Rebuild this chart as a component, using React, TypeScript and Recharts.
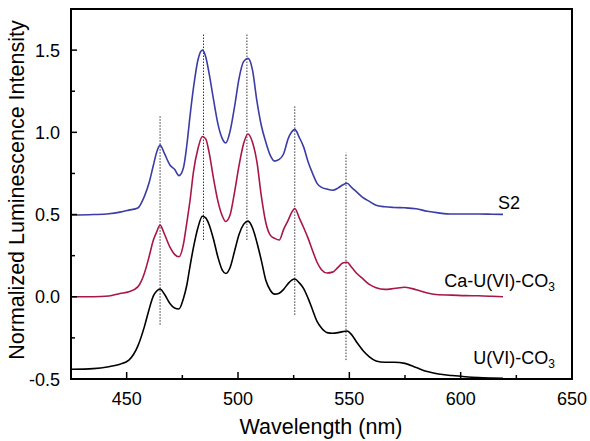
import React from "react";
import { LineChart, Line, XAxis, YAxis, ReferenceLine, ReferenceArea } from "recharts";

// wavelength grid (nm)
const wavelength = [
  425, 435, 442, 447, 451, 455, 458, 460, 462, 463.5, 465, 467, 469.5, 471.5, 473.5, 475.5, 477, 478.5,
  480, 482, 484, 485.5, 487, 489, 491, 493, 494.5, 496.5, 498.5, 500.5, 502.5, 504.5, 506.5, 508.5,
  510.5, 512.5, 514.5, 516.5, 518.5, 520.5, 522.5, 524, 525.5, 527.5, 529.5, 531.5, 533.5, 535.5,
  537.5, 540, 542.5, 545, 547, 549, 551, 553.5, 556, 559, 562, 566, 570, 575, 580, 585, 590, 596,
  602, 608, 614, 619,
];

const s2 = [
  0.497, 0.5, 0.505, 0.515, 0.527, 0.54, 0.612, 0.69, 0.8, 0.88, 0.922, 0.87, 0.8, 0.775, 0.737, 0.785,
  0.92, 1.105, 1.27, 1.44, 1.5, 1.46, 1.36, 1.2, 1.05, 0.96, 0.935, 1.01, 1.16, 1.33, 1.43, 1.45, 1.38,
  1.19, 1.04, 0.94, 0.86, 0.825, 0.835, 0.87, 0.96, 1.0, 1.018, 0.97, 0.91, 0.82, 0.75, 0.69, 0.665,
  0.655, 0.648, 0.662, 0.68, 0.69, 0.665, 0.635, 0.605, 0.58, 0.557, 0.547, 0.543, 0.541, 0.535, 0.52,
  0.51, 0.503, 0.503, 0.503, 0.502, 0.501,
];

const caUCO3 = [
  0.0, 0.0, 0.005, 0.02, 0.03, 0.06, 0.145, 0.24, 0.345, 0.395, 0.436, 0.38, 0.3, 0.258, 0.243, 0.32,
  0.45, 0.59, 0.76, 0.9, 0.975, 0.96, 0.88, 0.72, 0.58, 0.49, 0.458, 0.5, 0.64, 0.8, 0.93, 0.99, 0.94,
  0.82, 0.61, 0.45, 0.375, 0.355, 0.345, 0.41, 0.465, 0.51, 0.537, 0.48, 0.42, 0.355, 0.28, 0.21, 0.165,
  0.145, 0.15, 0.18, 0.205, 0.21, 0.18, 0.14, 0.11, 0.075, 0.055, 0.045, 0.05, 0.058, 0.043, 0.023,
  0.012, 0.01, 0.007, 0.006, 0.003, 0.0,
];

const uCO3 = [
  -0.441, -0.437, -0.425, -0.41, -0.385, -0.3, -0.18, -0.08, 0.005, 0.035, 0.047, 0.015, -0.042, -0.068,
  -0.074, -0.01, 0.07, 0.19, 0.3, 0.42, 0.49, 0.48, 0.44, 0.35, 0.24, 0.16, 0.142, 0.18, 0.28, 0.38,
  0.44, 0.46, 0.42, 0.33, 0.22, 0.1, 0.04, 0.016, 0.022, 0.045, 0.08, 0.1, 0.108, 0.085, 0.05, -0.01,
  -0.08, -0.15, -0.19, -0.218, -0.222, -0.218, -0.212, -0.208, -0.23, -0.28, -0.325, -0.365, -0.39,
  -0.398, -0.398, -0.405, -0.43, -0.455, -0.47, -0.479, -0.486, -0.491, -0.494, -0.496,
];

// dotted peak markers
const peakWl = [465, 484.5, 504, 525.5, 548.5];
const peakTop = [1.1, 1.6, 1.6, 1.16, 0.876];
const peakBottom = [-0.17, 0.345, 0.345, -0.11, -0.385];

const xTicks = [450, 475, 500, 525, 550, 575, 600, 625, 650];
const yTicks = [-0.5, -0.25, 0, 0.25, 0.5, 0.75, 1.0, 1.25, 1.5];

const data = wavelength.map((wl, i) => ({ wl, s2: s2[i], ca: caUCO3[i], u: uCO3[i] }));

const FONT = '"Liberation Sans", Arial, sans-serif';

const XTick = (props: any) => {
  const { x, y, payload } = props;
  const major = payload.value % 50 === 0;
  return (
    <g>
      <line x1={x} y1={y} x2={x} y2={y - (major ? 7 : 4)} stroke="#000" strokeWidth={1.5} />
      {major && (
        <text x={x} y={y + 26} textAnchor="middle" fontSize={18} fontFamily={FONT} fill="#000">
          {payload.value}
        </text>
      )}
    </g>
  );
};

const YTick = (props: any) => {
  const { x, y, payload } = props;
  const major = Math.abs(payload.value * 2 - Math.round(payload.value * 2)) < 1e-6;
  return (
    <g>
      <line x1={x} y1={y} x2={x + (major ? 6 : 4)} y2={y} stroke="#000" strokeWidth={1.5} />
      {major && (
        <text x={x - 11} y={y + 6.5} textAnchor="end" fontSize={18} fontFamily={FONT} fill="#000">
          {payload.value.toFixed(1)}
        </text>
      )}
    </g>
  );
};

export default function App() {
  return (
    <div style={{ position: "absolute", left: 0, top: 0, width: 590, height: 441, background: "#fff" }}>
      <LineChart width={590} height={441} data={data} margin={{ top: 9, right: 18, bottom: 61, left: 70 }}>
        <XAxis
          dataKey="wl"
          type="number"
          domain={[425, 650]}
          ticks={xTicks}
          interval={0}
          height={1}
          tickSize={0}
          tickMargin={0}
          tickLine={false}
          axisLine={{ stroke: "#000", strokeWidth: 2 }}
          tick={<XTick />}
          allowDataOverflow
        />
        <YAxis
          type="number"
          domain={[-0.5, 1.75]}
          ticks={yTicks}
          interval={0}
          width={1}
          tickSize={0}
          tickMargin={0}
          tickLine={false}
          axisLine={{ stroke: "#000", strokeWidth: 2 }}
          tick={<YTick />}
          allowDataOverflow
        />
        <ReferenceArea x1={425} x2={650} y1={-0.5} y2={1.75} fill="none" stroke="#000" strokeWidth={2} />
        {peakWl.map((wl, i) => (
          <ReferenceLine
            key={wl}
            segment={[{ x: wl, y: peakBottom[i] }, { x: wl, y: peakTop[i] }]}
            stroke="#333"
            strokeWidth={1}
            strokeDasharray="1.5 1.5"
          />
        ))}
        <Line type="monotone" dataKey="s2" stroke="#3b3ca6" strokeWidth={1.6} dot={false} isAnimationActive={false} />
        <Line type="monotone" dataKey="ca" stroke="#a8164a" strokeWidth={1.6} dot={false} isAnimationActive={false} />
        <Line type="monotone" dataKey="u" stroke="#000" strokeWidth={1.6} dot={false} isAnimationActive={false} />
      </LineChart>
      <svg
        width={590}
        height={441}
        style={{ position: "absolute", left: 0, top: 0, pointerEvents: "none" }}
        fontFamily={FONT}
      >
        <text x={498} y={209} fontSize={18} fill="#000">S2</text>
        <text x={555} y={287} fontSize={18} fill="#000" textAnchor="end">
          Ca-U(VI)-CO<tspan fontSize={12} dy={4}>3</tspan>
        </text>
        <text x={555} y={364} fontSize={18} fill="#000" textAnchor="end">
          U(VI)-CO<tspan fontSize={12} dy={4}>3</tspan>
        </text>
        <text x={321} y={434} fontSize={21.5} fill="#000" textAnchor="middle">Wavelength (nm)</text>
        <text
          x={17}
          y={190}
          fontSize={21.5}
          fill="#000"
          textAnchor="middle"
          dominantBaseline="central"
          transform="rotate(-90 17 190)"
        >
          Normalized Luminescence Intensity
        </text>
      </svg>
    </div>
  );
}
